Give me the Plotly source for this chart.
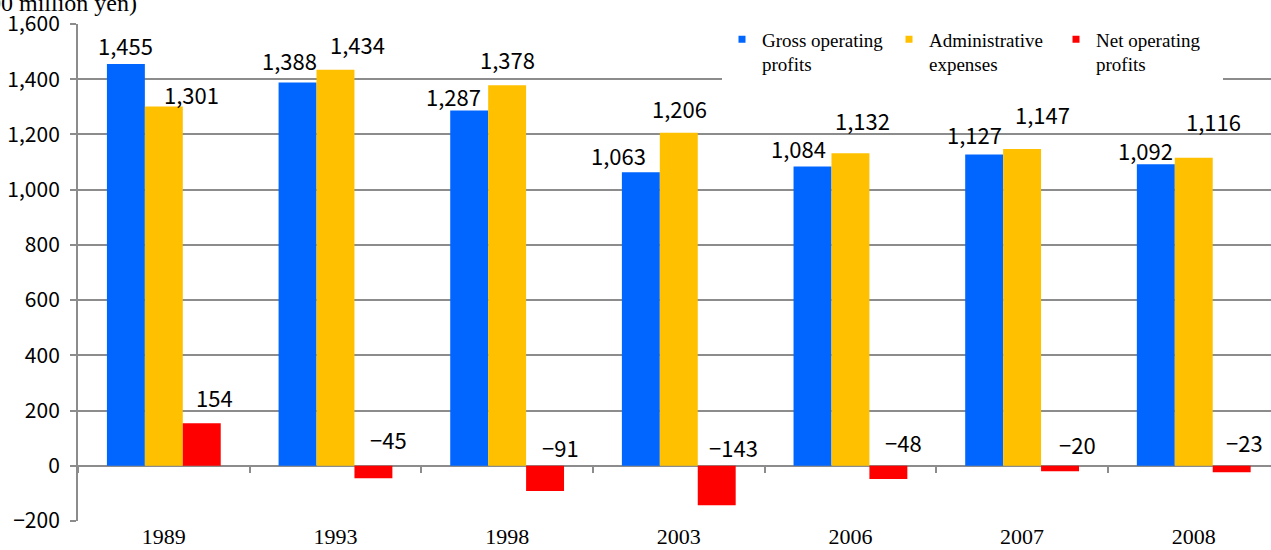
import plotly.graph_objects as go

years = ["1989", "1993", "1998", "2003", "2006", "2007", "2008"]
gross = [1455, 1388, 1287, 1063, 1084, 1127, 1092]
admin = [1301, 1434, 1378, 1206, 1132, 1147, 1116]
net = [154, -45, -91, -143, -48, -20, -23]

series_names = ["Gross operating<br>profits", "Administrative<br>expenses", "Net operating<br>profits"]
colors = ["#0066FF", "#FFC000", "#FF0000"]

# hand-placed label nudges in pixels (the original labels were dragged around)
label_dx = [[0, -8, -16, -22, -14, -10, -10],
            [28, 22, 0, 1, 12, 20, 20],
            [13, 15, 15, 17, 15, 17, 13]]
label_dy = [[19, 23, 14, 17, 18, 21, 14],
            [13, 26, 26, 25, 33, 35, 37],
            [26, 27, 19, 19, 24, 22, 24]]

W, H = 1271, 550
ML, MR, MT, MB = 78, 0, 24, 29
x_range = [-0.5, 6.45]
bargap = 0.337
label_font = dict(family="Noto Sans CJK KR", size=22, color="#000000")
grid_col = "#8C8C8C"

fig = go.Figure()

for name, vals, col in zip(series_names, [gross, admin, net], colors):
    fig.add_trace(go.Bar(x=years, y=vals, name=name, marker=dict(color=col, line=dict(width=0)),
                         showlegend=False))
    # small square legend marker
    fig.add_trace(go.Scatter(x=[None], y=[None], mode="markers", name=name,
                             marker=dict(symbol="square", size=7, color=col)))

# data labels: above the bar, or above the zero line for negatives
plot_w = W - ML - MR
bar_px = plot_w / (x_range[1] - x_range[0]) * (1 - bargap) / 3
annotations = []
for k, vals in enumerate([gross, admin, net]):
    for i, v in enumerate(vals):
        annotations.append(dict(
            x=i, y=max(v, 0), xref="x", yref="y",
            xshift=(k - 1) * bar_px + label_dx[k][i], yshift=label_dy[k][i],
            text=f"{v:,}".replace("-", "\u2212"), showarrow=False,
            xanchor="center", yanchor="middle", font=label_font))

annotations.append(dict(
    x=0, y=1, xref="paper", yref="paper", xshift=61, yshift=6,
    text="(100 million yen)", showarrow=False, xanchor="right", yanchor="bottom",
    font=dict(family="Liberation Serif", size=24, color="#000000")))

fig.update_layout(
    width=W, height=H,
    margin=dict(l=ML, r=MR, t=MT, b=MB, pad=0, autoexpand=False),
    barmode="group", bargap=bargap, bargroupgap=0,
    plot_bgcolor="#FFFFFF", paper_bgcolor="#FFFFFF",
    annotations=annotations,
    legend=dict(
        orientation="h", x=(722 - ML) / plot_w, y=1.007, xanchor="left", yanchor="top",
        bgcolor="#FFFFFF", borderwidth=0, valign="top",
        entrywidth=122, entrywidthmode="pixels", itemwidth=30,
        font=dict(family="Liberation Serif", size=19, color="#000000"),
        tracegroupgap=0,
    ),
    xaxis=dict(
        type="category", range=x_range, showgrid=False, showline=False, zeroline=False,
        ticks="", tickfont=dict(family="Liberation Serif", size=22, color="#000000"),
        ticklabelstandoff=0, automargin=False,
    ),
    xaxis2=dict(
        type="category", range=x_range, overlaying="x", anchor="free", position=200 / 1800,
        showgrid=False, showline=False, zeroline=False, showticklabels=False,
        ticks="outside", tickson="boundaries", ticklen=6, tickwidth=2, tickcolor=grid_col,
        automargin=False,
    ),
    yaxis=dict(
        range=[-200, 1600], dtick=200, tickformat=",",
        showgrid=True, gridcolor=grid_col, gridwidth=1.5,
        zeroline=True, zerolinecolor=grid_col, zerolinewidth=2,
        showline=True, linecolor=grid_col, linewidth=2,
        ticks="outside", ticklen=6, tickwidth=1.5, tickcolor=grid_col,
        tickfont=dict(family="Noto Sans CJK KR", size=21, color="#000000"), ticklabelstandoff=6,
        automargin=False,
    ),
)

# invisible trace so the zero-line tick axis gets drawn
fig.add_trace(go.Scatter(x=years, y=[None] * len(years), xaxis="x2", showlegend=False,
                         hoverinfo="skip"))

fig.write_html("out.html", config={"displayModeBar": False},
               post_script="document.body.style.margin='0';")
